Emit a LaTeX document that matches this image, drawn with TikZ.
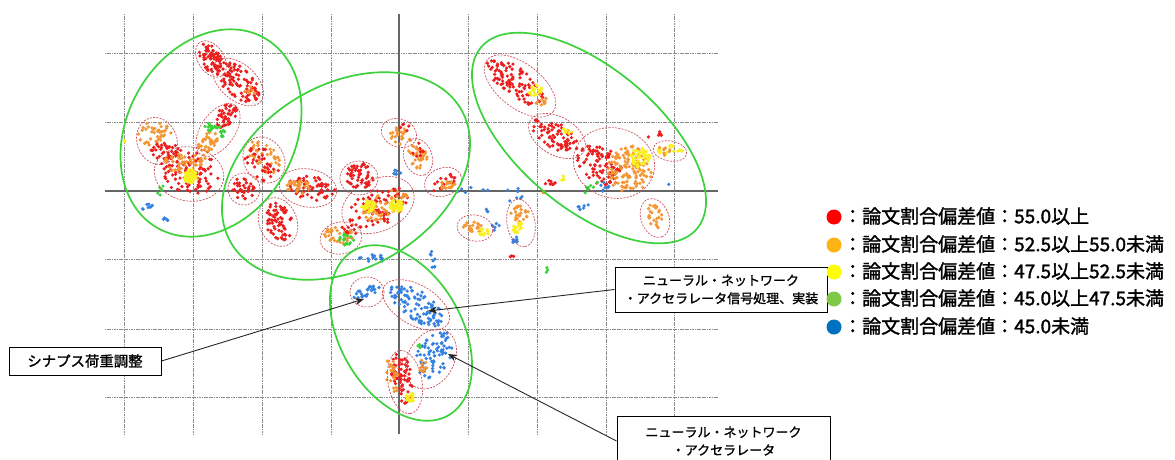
\documentclass[tikz,border=0pt]{standalone}
\usepackage{fontspec}
\setmainfont{Noto Sans CJK JP}
\newfontfamily\jpm{Noto Sans CJK JP}[FakeBold=1.6]
\newfontfamily\jpc{Noto Sans CJK JP}[FakeBold=1.3]
\usetikzlibrary{arrows.meta}
\definecolor{dR}{RGB}{236,30,30}
\definecolor{dO}{RGB}{244,150,52}
\definecolor{dY}{RGB}{250,240,30}
\definecolor{dG}{RGB}{60,210,60}
\definecolor{dB}{RGB}{55,130,225}
\definecolor{lR}{RGB}{255,0,0}
\definecolor{lO}{RGB}{255,178,20}
\definecolor{lY}{RGB}{255,255,0}
\definecolor{lG}{RGB}{128,200,72}
\definecolor{lB}{RGB}{0,112,192}
\definecolor{gEll}{RGB}{60,210,60}
\definecolor{rEll}{RGB}{205,80,90}
\definecolor{gridc}{RGB}{140,140,140}
\def\dens{1}
\newcommand\scat[7]{%
  \pgfmathtruncatemacro\sN{max(1,round(#6*\dens))}%
  \foreach \k in {1,...,\sN}{%
    \pgfmathsetmacro\sR{sqrt(rnd)}%
    \pgfmathsetmacro\sT{360*rnd}%
    \pgfmathsetmacro\sX{#1+\sR*(#3*cos(\sT)*cos(#5)-#4*sin(\sT)*sin(#5))}%
    \pgfmathsetmacro\sY{#2+\sR*(#3*cos(\sT)*sin(#5)+#4*sin(\sT)*cos(#5))}%
    \fill[#7] (\sX,\sY) circle[radius=1.8pt];%
  }%
}
\newcommand\rell[5]{%
  \draw[redell, rotate around={-1*(#5):(#1,#2)}] (#1,#2) ellipse [x radius=#3pt, y radius=#4pt];%
}
\newcommand\gell[5]{%
  \draw[greenell, rotate around={-1*(#5):(#1,#2)}] (#1,#2) ellipse [x radius=#3pt, y radius=#4pt];%
}
\tikzset{
  gridline/.style={draw=gridc, line width=0.7pt, dash pattern=on 1.2pt off 0.5pt},
  axisline/.style={draw=black!60, line width=1.3pt},
  redell/.style={draw=rEll, line width=0.7pt, dash pattern=on 2pt off 1.3pt},
  greenell/.style={draw=gEll, line width=1.7pt},
  callout/.style={draw=black, line width=1pt, fill=white, align=center, inner sep=0pt},
  arr/.style={draw=black!85, line width=0.9pt, -{Stealth[length=9pt,width=7pt]}},
  legdot/.style={circle, minimum size=15pt, inner sep=0pt},
  legtext/.style={anchor=west, inner sep=0pt, font=\jpm\fontsize{19}{22}\selectfont}
}
\begin{document}
\begin{tikzpicture}[x=1pt,y=-1pt]
\useasboundingbox (0,0) rectangle (1175,459);
\clip (0,0) rectangle (1175,459);
\fill[white] (0,0) rectangle (1175,459);
% grid
\foreach \gx in {124,193,262,331,468,537,606,674}{\draw[gridline] (\gx,14) -- (\gx,434);}
\foreach \gy in {53,122,259,329,397}{\draw[gridline] (105,\gy) -- (718,\gy);}
\draw[axisline] (399,14) -- (399,434);
\draw[axisline] (105,191) -- (718,191);
% dots
\pgfmathsetseed{4242}
\def\dens{1.7}
\scat{211}{59}{17}{10}{57}{45}{dR}
\scat{238}{82}{26}{14}{41}{55}{dR}
\scat{250}{92}{8}{5}{41}{4}{dO}
\scat{226}{116}{14}{9}{-55}{24}{dR}
\scat{208}{142}{12}{8}{-55}{22}{dO}
\scat{212}{127}{8}{4}{0}{10}{dG}
\scat{224}{134}{5}{4}{0}{5}{dG}
\scat{155}{134}{17}{12}{0}{25}{dO}
\scat{165}{150}{14}{10}{0}{22}{dR}
\scat{189}{172}{30}{22}{10}{55}{dR}
\scat{180}{163}{18}{10}{10}{20}{dO}
\scat{198}{160}{10}{6}{0}{8}{dO}
\scat{190}{176}{7}{7}{0}{34}{dY}
\scat{264}{157}{20}{12}{45}{25}{dO}
\scat{262}{164}{20}{14}{45}{22}{dR}
\scat{244}{188}{12}{12}{0}{20}{dR}
\scat{278}{222}{20}{14}{70}{40}{dR}
\scat{312}{188}{24}{12}{10}{35}{dR}
\scat{298}{187}{12}{7}{0}{20}{dO}
\scat{360}{176}{14}{13}{0}{32}{dR}
\scat{399}{135}{13}{8}{30}{15}{dO}
\scat{405}{128}{5}{5}{0}{3}{dR}
\scat{418}{157}{14}{9}{70}{22}{dO}
\scat{420}{150}{8}{8}{0}{5}{dR}
\scat{443}{182}{15}{8}{-20}{12}{dR}
\scat{448}{185}{8}{5}{0}{10}{dO}
\scat{378}{207}{32}{18}{-25}{48}{dR}
\scat{386}{205}{25}{12}{-25}{30}{dO}
\scat{368}{206}{7}{6}{0}{24}{dY}
\scat{396}{206}{7}{6}{0}{24}{dY}
\scat{338}{236}{15}{10}{0}{18}{dO}
\scat{346}{240}{8}{6}{0}{10}{dG}
\scat{348}{231}{10}{6}{0}{6}{dR}
\scat{474}{227}{12}{5}{10}{12}{dO}
\scat{484}{232}{5}{4}{0}{7}{dY}
\scat{520}{214}{9}{8}{0}{15}{dO}
\scat{518}{228}{6}{6}{0}{12}{dY}
\scat{515}{240}{4}{4}{0}{5}{dB}
\scat{515}{82}{34}{14}{38}{58}{dR}
\scat{535}{90}{7}{6}{0}{12}{dY}
\scat{541}{100}{6}{6}{0}{6}{dO}
\scat{555}{135}{26}{13}{30}{45}{dR}
\scat{568}{130}{5}{4}{0}{4}{dY}
\scat{600}{165}{25}{18}{30}{50}{dR}
\scat{630}{170}{22}{24}{0}{75}{dO}
\scat{640}{158}{10}{10}{0}{26}{dY}
\scat{670}{151}{13}{6}{10}{10}{dY}
\scat{663}{150}{8}{6}{0}{5}{dO}
\scat{655}{218}{14}{8}{70}{15}{dO}
\scat{367}{292}{14}{5}{-20}{15}{dB}
\scat{416}{305}{32}{14}{35}{58}{dB}
\scat{434}{355}{26}{16}{-60}{45}{dB}
\scat{420}{345}{3}{3}{0}{2}{dG}
\scat{402}{378}{26}{10}{80}{45}{dR}
\scat{392}{375}{18}{6}{80}{15}{dO}
\scat{410}{398}{5}{5}{0}{10}{dY}
\scat{422}{365}{8}{5}{80}{6}{dO}
% scattered extras
\def\dens{1}
\scat{148}{206}{8}{2}{-20}{8}{dB}
\scat{165}{220}{3}{5}{0}{5}{dB}
\scat{161}{192}{4}{8}{0}{6}{dG}
\scat{125}{140}{2}{2}{0}{2}{dY}
\scat{470}{190}{22}{3}{0}{6}{dB}
\scat{515}{196}{12}{10}{0}{7}{dB}
\scat{590}{188}{12}{3}{-25}{8}{dG}
\scat{604}{187}{6}{5}{0}{8}{dB}
\scat{583}{205}{6}{5}{-45}{6}{dB}
\scat{375}{258}{16}{4}{0}{15}{dB}
\scat{432}{262}{3}{11}{0}{8}{dB}
\scat{512}{257}{2}{3}{0}{3}{dR}
\scat{547}{270}{2}{3}{0}{3}{dG}
\scat{397}{172}{4}{6}{0}{6}{dB}
\scat{496}{226}{4}{5}{0}{5}{dB}
\scat{487}{210}{2}{4}{0}{3}{dB}
\scat{655}{135}{8}{5}{0}{6}{dR}
\scat{548}{183}{8}{3}{0}{8}{dR}
\scat{563}{178}{3}{3}{0}{5}{dY}
\scat{543}{193}{3}{3}{0}{3}{dO}
\scat{667}{185}{2}{2}{0}{1}{dB}
% red dashed ellipses
\rell{211}{59}{20}{13}{57}
\rell{238}{82}{30}{18}{41}
\rell{218}{130}{30}{17}{-55}
\rell{157}{141}{24}{20}{70}
\rell{189}{174}{35}{27}{10}
\rell{264}{160}{24}{20}{60}
\rell{244}{189}{16}{16}{0}
\rell{278}{222}{25}{19}{70}
\rell{308}{188}{29}{19}{10}
\rell{359}{178}{19}{17}{0}
\rell{399}{133}{18}{14}{20}
\rell{418}{157}{19}{14}{70}
\rell{443}{182}{19}{14}{-20}
\rell{378}{205}{38}{26}{-25}
\rell{341}{238}{21}{16}{-10}
\rell{475}{228}{18}{13}{10}
\rell{521}{223}{24}{14}{80}
\rell{520}{86}{42}{22}{38}
\rell{557}{136}{31}{19}{30}
\rell{614}{163}{41}{35}{15}
\rell{670}{151}{17}{10}{10}
\rell{655}{218}{20}{14}{70}
\rell{367}{292}{17}{15}{0}
\rell{416}{305}{37}{20}{30}
\rell{431}{359}{32}{23}{-60}
\rell{405}{382}{32}{17}{80}
% green ellipses
\gell{211}{133}{109}{84}{-61}
\gell{346}{176}{133}{92}{-30}
\gell{589}{138}{141}{70}{40}
\gell{401}{333}{95}{61}{60}
% callouts
\node[callout, minimum width=152pt, minimum height=28pt, font=\jpc\fontsize{14.4}{17}\selectfont] (b1) at (85,361) {シナプス荷重調整};
\node[callout, minimum width=212pt, minimum height=45pt, font=\jpc\fontsize{13}{18}\selectfont] (b2) at (721,289.5) {ニューラル・ネットワーク\\・アクセラレータ信号処理、実装};
\node[callout, minimum width=213pt, minimum height=50pt, font=\jpc\fontsize{13}{18}\selectfont] (b3) at (723.5,441) {ニューラル・ネットワーク\\・アクセラレータ};
\coordinate (t1) at (364,299);
\coordinate (t2) at (428,311);
\coordinate (t3) at (448,354);
\draw[arr] (b1.east) -- (t1);
\draw[arr] (b2.west) -- (t2);
\draw[arr] (b3.west) -- (t3);
% legend
\node[legdot, fill=lR] (c1) at (834,217) {};
\node[legdot, fill=lO] (c2) at (834,245) {};
\node[legdot, fill=lY] (c3) at (834,272) {};
\node[legdot, fill=lG] (c4) at (834,299) {};
\node[legdot, fill=lB] (c5) at (834,327) {};
\node[legtext] (l1) at (843,216) {：論文割合偏差値：55.0以上};
\node[legtext] (l2) at (843,244) {：論文割合偏差値：52.5以上55.0未満};
\node[legtext] (l3) at (843,271) {：論文割合偏差値：47.5以上52.5未満};
\node[legtext] (l4) at (843,298) {：論文割合偏差値：45.0以上47.5未満};
\node[legtext] (l5) at (843,326) {：論文割合偏差値：45.0未満};
\end{tikzpicture}
\end{document}
